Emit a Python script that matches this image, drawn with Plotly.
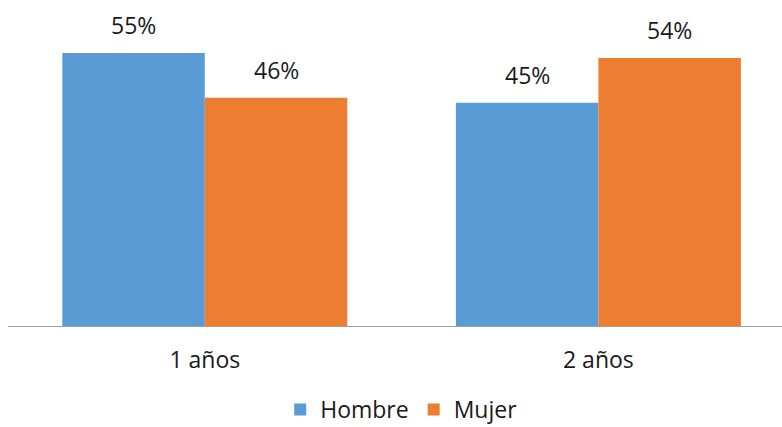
import plotly.graph_objects as go

categories = ["1 años", "2 años"]
hombre = [55, 45]
mujer = [46, 54]
series_names = ["Hombre", "Mujer"]
colors = ["#5B9BD5", "#ED7D31"]

bargap = 0.276
font_family = "Open Sans, Noto Sans, sans-serif"
fsize = 23

fig = go.Figure()
for name, vals, col in zip(series_names, [hombre, mujer], colors):
    fig.add_trace(go.Bar(x=categories, y=vals, name=name, marker=dict(color=col, line=dict(width=0))))

half = (1 - bargap) / 4
for i in range(len(categories)):
    for vals, off in [(hombre, -half), (mujer, half)]:
        fig.add_annotation(x=i + off, y=vals[i], text=f"{vals[i]}%", showarrow=False,
                           yanchor="bottom", yshift=10, xref="x", yref="y",
                           font=dict(size=fsize, color="#1a1a1a", family=font_family))

fig.update_layout(
    width=782, height=427,
    margin=dict(l=8, r=0, t=0, b=101, autoexpand=False),
    paper_bgcolor="white", plot_bgcolor="white",
    barmode="group", bargap=bargap, bargroupgap=0,
    showlegend=True,
    legend=dict(orientation="h", x=0.508, xanchor="center", y=-0.256, yanchor="middle",
                font=dict(size=fsize, color="#1a1a1a", family=font_family),
                itemwidth=30, tracegroupgap=0),
    font=dict(family=font_family),
)
fig.update_xaxes(range=[-0.5, 1.4665], showline=True, linecolor="#a0a0a0", linewidth=1,
                 ticks="outside", ticklen=13, tickcolor="rgba(0,0,0,0)",
                 tickfont=dict(size=fsize, color="#1a1a1a", family=font_family),
                 showgrid=False, zeroline=False)
fig.update_yaxes(range=[0, 65.7], visible=False, showgrid=False, zeroline=False)

fig.write_html("out.html", config={"displayModeBar": False},
               post_script="document.body.style.margin='0';document.body.style.overflow='hidden';")
